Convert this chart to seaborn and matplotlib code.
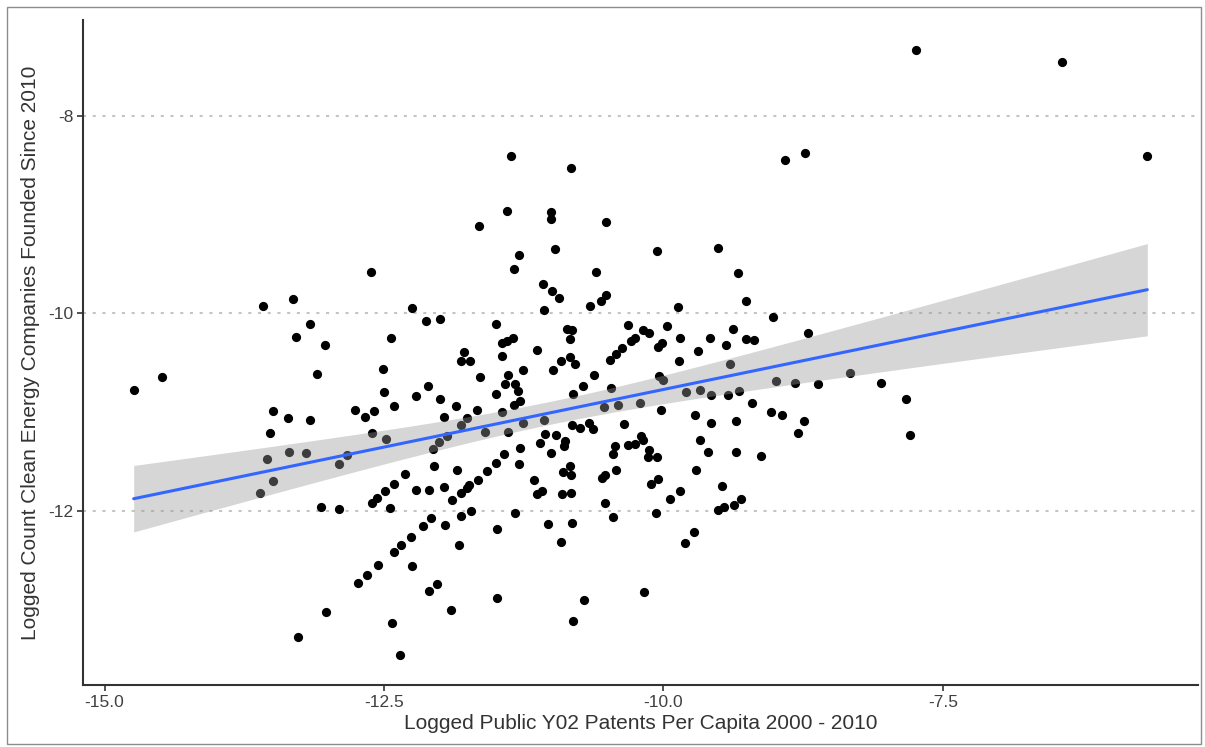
import matplotlib
matplotlib.use("Agg")
import matplotlib.pyplot as plt
from matplotlib.patches import Rectangle
import numpy as np
import pandas as pd
import seaborn as sns

# Logged public Y02 patents per capita (2000-2010), one value per region
patents_log = [
    -14.74, -14.49, -13.58, -13.31, -13.16, -13.29, -13.03, -13.10, -13.49, -13.36,
    -13.16, -13.52, -13.55, -13.35, -13.20, -13.49, -13.61, -12.83, -12.90, -12.76,
    -12.67, -12.61, -13.06, -12.90, -12.61, -12.62, -12.65, -12.73, -13.02, -13.27,
    -11.65, -12.25, -12.12, -12.00, -11.50, -12.44, -11.78, -11.81, -11.73, -12.51,
    -11.64, -12.50, -12.11, -12.21, -11.50, -12.00, -11.36, -10.83, -11.40, -11.01,
    -11.01, -10.51, -10.97, -11.29, -11.34, -10.60, -11.08, -11.00, -10.93, -10.51,
    -10.56, -10.66, -11.07, -10.32, -10.86, -10.82, -10.84, -11.35, -11.40, -11.44,
    -10.29, -11.13, -11.44, -10.37, -10.42, -10.48, -10.92, -10.84, -10.79, -10.99,
    -11.26, -11.39, -11.42, -11.33, -11.30, -10.62, -10.72, -10.81, -10.47, -11.28,
    -12.41, -12.59, -11.86, -11.96, -11.67, -11.76, -11.81, -12.48, -11.94, -11.60,
    -12.01, -12.06, -12.05, -11.85, -12.31, -12.41, -12.49, -12.21, -12.10, -11.96,
    -12.56, -12.45, -11.89, -11.81, -11.76, -11.74, -11.66, -11.58, -11.50, -11.72,
    -11.81, -12.08, -12.15, -11.95, -12.26, -12.35, -12.41, -11.83, -11.49, -12.55,
    -12.25, -12.03, -12.10, -11.49, -11.90, -12.43, -12.36, -11.44, -11.34, -11.07,
    -11.26, -11.39, -10.82, -10.75, -10.67, -10.63, -10.53, -10.41, -10.35, -11.06,
    -10.96, -11.10, -10.88, -10.89, -11.28, -11.01, -11.43, -10.43, -10.32, -10.45,
    -11.29, -10.84, -10.90, -10.83, -10.42, -10.52, -10.55, -11.16, -11.09, -11.13,
    -10.91, -10.83, -10.52, -11.33, -10.45, -11.03, -10.82, -10.92, -10.71, -10.81,
    -10.06, -9.51, -9.33, -9.26, -9.87, -9.02, -9.97, -10.18, -10.13, -10.25,
    -9.85, -9.58, -9.38, -9.44, -9.26, -9.19, -10.01, -10.05, -9.69, -9.86,
    -9.40, -10.04, -10.00, -8.99, -9.80, -9.67, -9.57, -9.42, -9.32, -10.21,
    -10.02, -9.72, -9.57, -9.35, -9.21, -9.04, -8.94, -10.20, -10.25, -10.18,
    -10.13, -10.14, -10.06, -9.67, -9.60, -9.35, -9.13, -9.71, -10.05, -10.11,
    -9.48, -9.85, -9.94, -9.31, -9.37, -9.46, -9.51, -10.07, -9.73, -9.81,
    -10.17, -7.74, -6.43, -5.67, -8.73, -8.91, -8.71, -8.33, -8.82, -8.62,
    -8.05, -7.83, -8.74, -8.80, -7.79,
]

# Logged count of clean energy companies founded since 2010, same regions
companies_log = [
    -10.77, -10.64, -9.92, -9.85, -10.11, -10.24, -10.32, -10.61, -10.99, -11.06,
    -11.08, -11.21, -11.47, -11.40, -11.41, -11.69, -11.82, -11.43, -11.52, -10.98,
    -11.05, -11.21, -11.96, -11.98, -11.92, -9.58, -12.64, -12.72, -13.02, -13.27,
    -9.12, -9.95, -10.08, -10.06, -10.11, -10.25, -10.39, -10.48, -10.48, -10.56,
    -10.64, -10.79, -10.73, -10.83, -10.81, -10.86, -8.41, -8.53, -8.96, -8.97,
    -9.05, -9.08, -9.35, -9.41, -9.55, -9.58, -9.70, -9.77, -9.84, -9.81,
    -9.87, -9.93, -9.97, -10.12, -10.16, -10.17, -10.26, -10.25, -10.28, -10.30,
    -10.28, -10.37, -10.43, -10.35, -10.41, -10.47, -10.48, -10.44, -10.51, -10.57,
    -10.57, -10.62, -10.71, -10.71, -10.78, -10.62, -10.73, -10.81, -10.75, -10.89,
    -10.94, -10.99, -10.94, -11.05, -10.98, -11.06, -11.13, -11.27, -11.24, -11.20,
    -11.30, -11.37, -11.54, -11.58, -11.62, -11.72, -11.79, -11.78, -11.78, -11.75,
    -11.87, -11.97, -11.89, -11.81, -11.76, -11.73, -11.68, -11.59, -11.51, -12.00,
    -12.05, -12.07, -12.15, -12.14, -12.26, -12.34, -12.41, -12.34, -12.18, -12.54,
    -12.55, -12.73, -12.81, -12.88, -13.00, -13.13, -13.45, -11.00, -10.93, -11.08,
    -11.11, -11.20, -11.13, -11.16, -11.11, -11.17, -10.95, -10.93, -11.12, -11.22,
    -11.23, -11.31, -11.29, -11.34, -11.36, -11.41, -11.42, -11.34, -11.33, -11.42,
    -11.52, -11.54, -11.60, -11.63, -11.58, -11.63, -11.66, -11.68, -11.79, -11.83,
    -11.83, -11.82, -11.92, -12.02, -12.06, -12.13, -12.12, -12.31, -12.90, -13.11,
    -9.37, -9.34, -9.59, -9.87, -9.94, -10.04, -10.13, -10.17, -10.20, -10.25,
    -10.25, -10.25, -10.16, -10.32, -10.26, -10.27, -10.30, -10.34, -10.38, -10.48,
    -10.51, -10.63, -10.67, -10.68, -10.79, -10.77, -10.82, -10.82, -10.78, -10.91,
    -10.98, -11.03, -11.11, -11.09, -10.91, -11.00, -11.03, -11.24, -11.32, -11.28,
    -11.38, -11.45, -11.45, -11.28, -11.40, -11.40, -11.44, -11.58, -11.67, -11.72,
    -11.74, -11.79, -11.88, -11.88, -11.94, -11.96, -11.99, -12.02, -12.21, -12.32,
    -12.82, -7.34, -7.46, -8.41, -8.38, -8.45, -10.20, -10.60, -10.70, -10.71,
    -10.70, -10.86, -11.09, -11.21, -11.23,
]

x_ticks = [-15.0, -12.5, -10.0, -7.5]
x_tick_labels = ["-15.0", "-12.5", "-10.0", "-7.5"]
y_ticks = [-8, -10, -12]
y_tick_labels = ["-8", "-10", "-12"]

x_title = "Logged Public Y02 Patents Per Capita 2000 - 2010"
y_title = "Logged Count Clean Energy Companies Founded Since 2010"

df = pd.DataFrame({"patents": patents_log, "companies": companies_log})

sns.set_theme(style="white")
plt.rcParams["font.family"] = ["Liberation Sans", "DejaVu Sans"]
plt.rcParams["lines.scale_dashes"] = False

W, H = 1205, 747
fig = plt.figure(figsize=(W / 100, H / 100), dpi=100)
fig.patch.set_facecolor("white")

left, right, top, bottom = 83, 1198, 20, 685
ax = fig.add_axes([left / W, 1 - bottom / H, (right - left) / W, (bottom - top) / H])

# points and OLS fit line
sns.regplot(
    data=df, x="patents", y="companies", ax=ax, ci=None,
    scatter_kws=dict(color="black", s=44, linewidths=0, alpha=1, zorder=2),
    line_kws=dict(color="#3366FF", lw=2.2, zorder=4),
    truncate=True,
)

# analytic 95% confidence band of the linear fit, laid over the points
xv = df["patents"].to_numpy()
yv = df["companies"].to_numpy()
n = len(xv)
b1, b0 = np.polyfit(xv, yv, 1)
resid = yv - (b0 + b1 * xv)
s = np.sqrt(np.sum(resid ** 2) / (n - 2))
xm = xv.mean()
sxx = np.sum((xv - xm) ** 2)
grid = np.linspace(xv.min(), xv.max(), 200)
fit = b0 + b1 * grid
half = 1.97 * s * np.sqrt(1 / n + (grid - xm) ** 2 / sxx)
ax.fill_between(grid, fit - half, fit + half, color="#999999", alpha=0.4,
                linewidth=0, zorder=3)

# 5% expansion around the data range
xmin, xmax = xv.min(), xv.max()
ymin, ymax = yv.min(), yv.max()
xpad, ypad = 0.05 * (xmax - xmin), 0.05 * (ymax - ymin)
ax.set_xlim(xmin - xpad, xmax + xpad)
ax.set_ylim(ymin - ypad, ymax + ypad)

ax.set_xticks(x_ticks)
ax.set_xticklabels(x_tick_labels)
ax.set_yticks(y_ticks)
ax.set_yticklabels(y_tick_labels)

ax.yaxis.grid(True, linestyle=(0, (2.2, 4.8)), linewidth=1.5, color="#C4C4C4")
ax.xaxis.grid(False)
ax.set_axisbelow(True)

for side in ("top", "right"):
    ax.spines[side].set_visible(False)
for side in ("left", "bottom"):
    ax.spines[side].set_color("#333333")
    ax.spines[side].set_linewidth(1.5)

ax.tick_params(axis="both", which="major", length=4, width=1.2, color="#333333",
               labelsize=12.5, labelcolor="#404040", pad=3, direction="out",
               bottom=True, left=True)

ax.set_xlabel(x_title, fontsize=15, color="#333333", labelpad=3)
ax.set_ylabel(y_title, fontsize=15, color="#333333", labelpad=6)

# thin outer frame around the whole figure
fig.patches.append(Rectangle((7 / W, 3 / H), (W - 11) / W, (H - 10) / H,
                             transform=fig.transFigure, fill=False,
                             edgecolor="#8C8C8C", linewidth=1.0))

fig.savefig("out.png", dpi=100, facecolor="white")
